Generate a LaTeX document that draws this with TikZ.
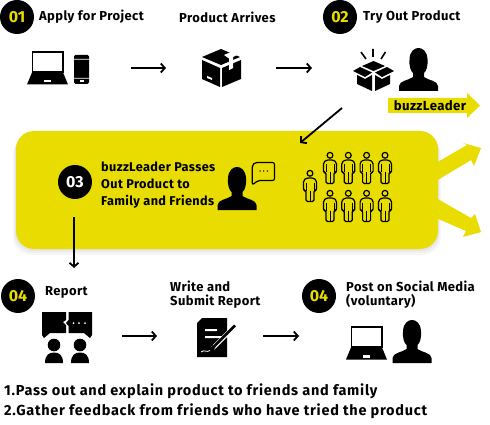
\documentclass[tikz,border=0pt]{standalone}
\usepackage{fontspec}
\setmainfont{Fira Sans}[BoldFont={Fira Sans Bold}]
\newfontfamily\labfont{Fira Sans Bold}[LetterSpace=3]
\newfontfamily\botfont{Fira Sans Bold}[LetterSpace=5]
\usetikzlibrary{arrows.meta}
\definecolor{buzz}{RGB}{232,220,0}
\tikzset{
  conn/.style={line width=1.8pt,-{Straight Barb[length=4pt,width=9pt,line width=1.8pt]}},
  num/.style={circle,fill=black,minimum size=34pt,inner sep=0pt,text=buzz,font=\bfseries\fontsize{16}{16}\selectfont},
  lab/.style={anchor=west,inner sep=0pt,align=left,font=\labfont\fontsize{13}{14}\selectfont,text=black},
  bot/.style={anchor=west,inner sep=0pt,font=\botfont\fontsize{14.5}{14}\selectfont,text=black},
  bust/.pic={
    \fill[black] (-19.5,0) -- (-19.5,-5) .. controls (-19,-10.5) and (-10,-10.5) .. (-5.5,-14)
      -- (-5.5,-18) .. controls (-8,-20) and (-9.5,-25) .. (-9,-32)
      .. controls (-8.5,-40) and (-4,-43) .. (0,-43)
      .. controls (4,-43) and (8.5,-40) .. (9,-32)
      .. controls (9.5,-25) and (8,-20) .. (5.5,-18)
      -- (5.5,-14) .. controls (10,-10.5) and (19,-10.5) .. (19.5,-5) -- (19.5,0) -- cycle;
  },
  laptop/.pic={
    \draw[black,line width=1.6pt] (-15.2,-10.5) rectangle (15.2,9.5);
    \fill[black] (-15.5,10) -- (15.5,10) -- (20.5,22) -- (-20.5,22) -- cycle;
    \fill[white] (-3.5,17.5) rectangle (3.5,20);
  },
  figure/.pic={
    \draw[black,line width=1.2pt,fill=buzz] (0,2.8) circle (2.9);
    \draw[black,line width=1.2pt,fill=buzz,rounded corners=1.5pt]
      (-3.5,7.5) -- (3.5,7.5) -- (6.5,10) -- (6.5,20) -- (4,20) -- (4,31) -- (-4,31) -- (-4,20) -- (-6.5,20) -- (-6.5,10) -- cycle;
    \draw[black,line width=1pt] (0,20) -- (0,31) (-4,12) -- (-4,20) (4,12) -- (4,20);
  }
}
\begin{document}
\begin{tikzpicture}[x=1pt,y=-1pt]
\useasboundingbox (0,0) rectangle (490,425);
% panel shadow
\foreach \o/\a in {6/.03,4/.03,2/.04}{
  \fill[black,opacity=\a,rounded corners=18pt] (16-\o/2,131+\o) rectangle (438+\o/2,249+\o);
}
% side arrows
\fill[buzz] (436,163) -- (467,145) -- (463,143) -- (481,148) -- (474,166) -- (471,160) -- (436,181) -- cycle;
\fill[buzz] (436,198) -- (471,218) -- (475,214) -- (481,232) -- (463,237) -- (466,231) -- (436,218) -- cycle;
% panel
\node[fill=buzz,rounded corners=18pt,minimum width=422pt,minimum height=118pt,inner sep=0pt] (panel) at (227,190) {};
% numbered circles
\node[num] (n1) at (17,17) {01};
\node[num] (n2) at (340,17) {02};
\node[num,text=white] (n3) at (75,182) {03};
\node[num] (n4) at (18,296) {04};
\node[num] (n5) at (319,296) {04};
% labels
\node[lab] (t1) at (39,17) {Apply for Project};
\node[lab] (t2) at (179,17) {Product Arrives};
\node[lab] (t3) at (363,17) {Try Out Product};
\node[lab,font=\labfont\fontsize{12.7}{16.9}\selectfont] (t4) at (101,185) {buzzLeader Passes\\Out Product to\\Family and Friends};
\node[lab] (t5) at (45,292) {Report};
\node[lab] (t6) at (170,295) {Write and\\Submit Report};
\node[lab] (t7) at (346,295) {Post on Social Media\\(voluntary)};
\node[bot] (b1) at (4,391) {1.Pass out and explain product to friends and family};
\node[bot] (b2) at (4,411) {2.Gather feedback from friends who have tried the product};
% flow arrows
\coordinate (a1s) at (131,68); \coordinate (a1e) at (166,68);
\coordinate (a2s) at (276,68); \coordinate (a2e) at (312,68);
\coordinate (a3s) at (342,108); \coordinate (a3e) at (300,143);
\coordinate (a4s) at (74,217); \coordinate (a4e) at (74,268);
\coordinate (a5s) at (122,336); \coordinate (a5e) at (157,336);
\coordinate (a6s) at (263,336); \coordinate (a6e) at (299,336);
\draw[conn] (a1s) -- (a1e);
\draw[conn] (a2s) -- (a2e);
\draw[conn] (a3s) -- (a3e);
\draw[conn] (a4s) -- (a4e);
\draw[conn] (a5s) -- (a5e);
\draw[conn] (a6s) -- (a6e);
% laptop + phone
\pic at (47.5,62.5) {laptop};
\fill[black,rounded corners=1.5pt] (74,55) rectangle (89,84);
\fill[white] (74,59) rectangle (89,59.7) (74,78) rectangle (89,78.7);
\fill[white] (79.5,80.5) rectangle (83.5,82);
% closed box
\fill[black] (221,49) -- (240,57) -- (221,65) -- (202,57) -- cycle;
\fill[black] (202,60) -- (220,68) -- (220,87) -- (202,79) -- cycle;
\fill[black] (222,68) -- (241,60) -- (241,79) -- (222,87) -- cycle;
\fill[white] (224,55) -- (231,52) -- (237,55) -- (233,57) -- (233,68) -- (229,70) -- (229,58.5) -- cycle;
\fill[white] (207,76) -- (212,78) -- (212,80) -- (207,78) -- cycle;
% open box
\fill[black] (373.5,61) -- (385,66) -- (373.5,71) -- (362,66) -- cycle;
\fill[black] (360,67) -- (372,72.5) -- (365,77) -- (353,71) -- cycle;
\fill[black] (387,67) -- (375,72.5) -- (382,77) -- (394,71) -- cycle;
\fill[black] (357,75) -- (365,79) -- (372,75) -- (372,91) -- (357,84) -- cycle;
\fill[black] (390,75) -- (382,79) -- (375,75) -- (375,91) -- (390,84) -- cycle;
\draw[black,line width=1.6pt] (373,49) -- (373,57) (361,52) -- (366,59) (385.5,52) -- (381,59);
% persons
\pic at (418.5,91) {bust};
\pic at (237,210) {bust};
\pic at (412,363) {bust};
% buzzLeader tag
\fill[buzz] (388,98) -- (467,98) -- (467,93) -- (480,105.5) -- (467,118) -- (467,113) -- (388,113) -- cycle;
\node[lab,anchor=center,font=\labfont\fontsize{13.2}{14}\selectfont] (tag) at (430,105.5) {buzzLeader};
% speech bubble
\draw[black,line width=1.2pt,rounded corners=2pt,line join=round]
  (255,162.5) -- (274.5,162.5) -- (274.5,180.5) -- (258,180.5) -- (252.3,185) -- (252.3,165) -- cycle;
\fill[black] (260,171) circle (.75) (263.7,171) circle (.75) (267.4,171) circle (.75);
% crowd
\pic at (310,170.5) {figure};
\foreach \x in {330,348.3,366.6,385}{
  \pic at (\x,152.5) {figure};
  \pic at (\x,190.5) {figure};
}
% report icon
\fill[black] (42,312) -- (66,312) -- (66,320) -- (63,322) -- (66,325) -- (66,333) -- (50,333) -- (44,338) -- (42,335) -- cycle;
\fill[black] (68.5,312) -- (92,312) -- (92,335) -- (90,338) -- (84,333) -- (68.5,333) -- (68.5,326) -- (66,323) -- (68.5,320) -- cycle;
\fill[white] (73.5,323) circle (1) (79,323) circle (1) (85,323) circle (1);
\fill[black] (54,345) circle (6.3) (80,345) circle (6.3);
\fill[black] (45,363) .. controls (45,355) and (49,352.5) .. (54,352.5) .. controls (59,352.5) and (63,355) .. (63,363) -- cycle;
\fill[black] (71,363) .. controls (71,355) and (75,352.5) .. (80,352.5) .. controls (85,352.5) and (89,355) .. (89,363) -- cycle;
% document icon
\fill[black] (202,318) -- (227,318) -- (227,357) -- (197,357) -- (197,323) -- cycle;
\fill[white] (205,329) rectangle (217,331) (205,336) rectangle (222,338);
\draw[white,line width=4.5pt] (237,324) -- (213,348);
\draw[black,line width=2.6pt] (235,325.5) -- (214,346.5);
\fill[black] (215.5,348) -- (209.5,351) -- (212.5,345) -- cycle;
\draw[white,line width=.8pt] (201,352) .. controls (205,349) and (206,353) .. (210,350.5);
% laptop 2
\pic at (366.5,337.5) {laptop};
\end{tikzpicture}
\end{document}
